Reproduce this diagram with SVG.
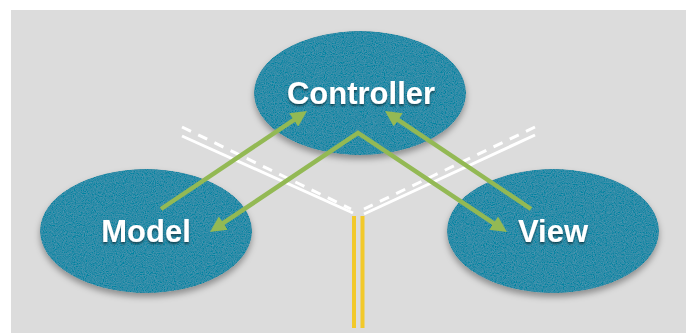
<svg xmlns="http://www.w3.org/2000/svg" width="686" height="333" viewBox="0 0 686 333">
<defs>
<style>
.node{fill:#2f8ca8;filter:url(#tex);}
.lbl{font-family:"Liberation Sans",Arial,sans-serif;font-weight:bold;font-size:31px;fill:#ffffff;text-anchor:middle;filter:url(#tshadow);}
.arrow{fill:none;stroke:#93b954;stroke-width:4.5;stroke-linejoin:miter;}
.wsolid{fill:none;stroke:#ffffff;stroke-width:3;}
.wdash{fill:none;stroke:#ffffff;stroke-width:3;stroke-dasharray:10 8;}
.yel{fill:none;stroke:#f2c92a;stroke-width:4;}
</style>
<filter id="tex" x="-10%" y="-10%" width="120%" height="135%">
<feTurbulence type="fractalNoise" baseFrequency="0.9" numOctaves="2" seed="4" result="n"/>
<feColorMatrix in="n" type="matrix" values="0.33 0.33 0.33 0 0 0.33 0.33 0.33 0 0 0.33 0.33 0.33 0 0 0 0 0 0 1" result="g"/>
<feComposite in="SourceGraphic" in2="g" operator="arithmetic" k1="0" k2="1" k3="0.22" k4="-0.11" result="t"/>
<feComposite in="t" in2="SourceAlpha" operator="in" result="tt"/>
<feGaussianBlur in="SourceAlpha" stdDeviation="3" result="b"/>
<feOffset in="b" dx="0" dy="4" result="ob"/>
<feFlood flood-color="#000000" flood-opacity="0.35"/>
<feComposite in2="ob" operator="in" result="sh"/>
<feMerge><feMergeNode in="sh"/><feMergeNode in="tt"/></feMerge>
</filter>
<filter id="tshadow" x="-10%" y="-20%" width="120%" height="150%">
<feGaussianBlur in="SourceAlpha" stdDeviation="1.2" result="b"/>
<feOffset in="b" dx="0" dy="2" result="ob"/>
<feFlood flood-color="#000000" flood-opacity="0.5"/>
<feComposite in2="ob" operator="in" result="sh"/>
<feMerge><feMergeNode in="sh"/><feMergeNode in="SourceGraphic"/></feMerge>
</filter>
<marker id="ah" markerUnits="userSpaceOnUse" markerWidth="17" markerHeight="16" refX="2" refY="8" orient="auto-start-reverse" viewBox="0 0 17 16">
<path d="M0,0 L16,8 L0,16 z" fill="#93b954"/>
</marker>
</defs>
<rect x="0" y="0" width="686" height="333" fill="#ffffff"/>
<rect x="11" y="10" width="675" height="323" fill="#dcdcdc"/>
<g id="roads">
<line class="wdash" x1="182" y1="127" x2="351" y2="209"/>
<line class="wsolid" x1="182" y1="136" x2="353" y2="213"/>
<line class="wdash" x1="535" y1="127" x2="364" y2="209"/>
<line class="wsolid" x1="535" y1="135" x2="364" y2="214"/>
<line class="yel" x1="354" y1="216" x2="354" y2="328"/>
<line class="yel" x1="362.5" y1="216" x2="362.5" y2="328"/>
</g>
<g id="controller">
<ellipse class="node" cx="360" cy="93" rx="106" ry="62"/>
<text class="lbl" x="361" y="104">Controller</text>
</g>
<g id="model">
<ellipse class="node" cx="146" cy="231" rx="106" ry="62"/>
<text class="lbl" x="146" y="242">Model</text>
</g>
<g id="view">
<ellipse class="node" cx="553" cy="231" rx="106" ry="62"/>
<text class="lbl" x="553" y="242">View</text>
</g>
<g id="connectors">
<line class="arrow" x1="161" y1="209" x2="295.4" y2="118.8" marker-end="url(#ah)"/>
<path class="arrow" d="M221.6,224.2 L358,133 L495.3,224.3" marker-start="url(#ah)" marker-end="url(#ah)"/>
<line class="arrow" x1="531" y1="209" x2="396.6" y2="118.8" marker-end="url(#ah)"/>
</g>
</svg>
